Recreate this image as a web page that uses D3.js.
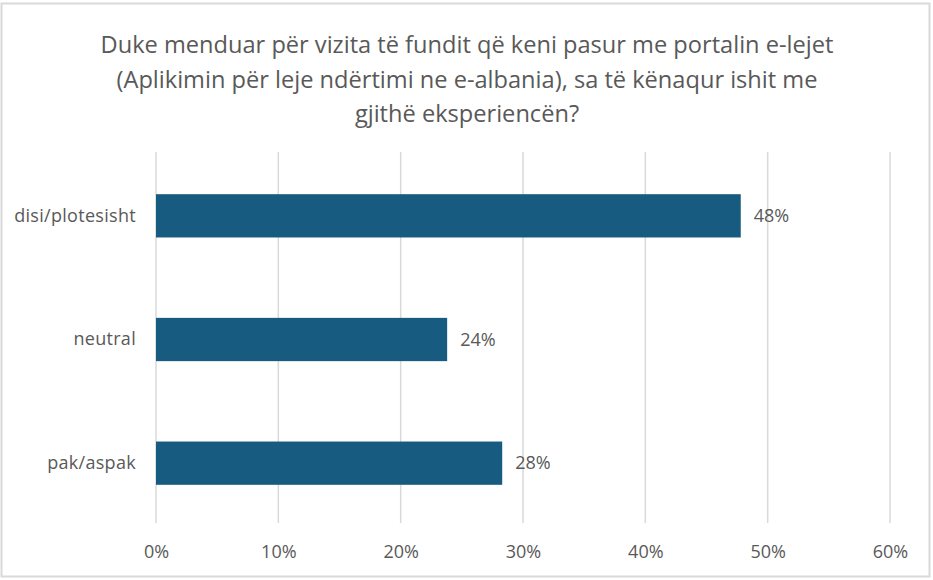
<!DOCTYPE html>
<html><head><meta charset="utf-8">
<script src="https://cdn.jsdelivr.net/npm/d3@7"></script>
<style>body{margin:0;background:#fff;} svg{display:block;}</style>
</head><body>
<script>
const categories = ["disi/plotesisht", "neutral", "pak/aspak"];
const values = [47.8, 23.8, 28.3];
const valueLabels = ["48%", "24%", "28%"];
const tickValues = [0, 10, 20, 30, 40, 50, 60];
const titleLines = [
  "Duke menduar për vizita të fundit që keni pasur me portalin e-lejet",
  "(Aplikimin për leje ndërtimi ne e-albania), sa të kënaqur ishit me",
  "gjithë eksperiencën?"
];

const W = 933, H = 580;
const svg = d3.select("body").append("svg").attr("width", W).attr("height", H);
svg.append("rect").attr("x", 0).attr("y", 0).attr("width", W).attr("height", H).attr("fill", "#fff");
svg.append("rect").attr("x", 1.5).attr("y", 3.5).attr("width", 928).attr("height", 573)
  .attr("fill", "none").attr("stroke", "#d9d9d9").attr("stroke-width", 2);

const textColor = "#595959";
const font = "'Open Sans', 'Noto Sans', sans-serif";

const title = svg.append("g").selectAll("text").data(titleLines).join("text")
  .attr("x", 467).attr("y", (d, i) => 53 + i * 34.5)
  .attr("text-anchor", "middle").attr("fill", textColor)
  .style("font-family", font).style("font-size", "22px")
  .text(d => d);
// fit first title line to reference width (~733px)
const w0 = title.node().getComputedTextLength();
const fs = Math.min(26, 22 * 733 / w0);
title.style("font-size", fs + "px");

const x = d3.scaleLinear().domain([0, 60]).range([156, 890]);
const y = d3.scaleBand().domain(categories).range([154, 525]).paddingInner(0.65).paddingOuter(0.325);

// gridlines
svg.append("g").selectAll("line").data(tickValues).join("line")
  .attr("x1", d => x(d)).attr("x2", d => x(d))
  .attr("y1", 152).attr("y2", 523)
  .attr("stroke", "#d9d9d9").attr("stroke-width", 1.5);

// tick labels
const xAxis = d3.axisBottom(x).tickValues(tickValues).tickFormat(d => d + "%").tickSize(0).tickPadding(0);
const gx = svg.append("g").attr("transform", "translate(0,545)").call(xAxis);
gx.select(".domain").remove();
gx.selectAll("text").attr("fill", textColor).style("font-family", font).style("font-size", "18px").attr("dy", "0.35em").attr("y", 7);

// category axis
const yAxis = d3.axisLeft(y).tickSize(0).tickPadding(20);
const gy = svg.append("g").attr("transform", "translate(156,0)").call(yAxis);
gy.select(".domain").remove();
gy.selectAll("text").attr("fill", textColor).style("font-family", font).style("font-size", "18px").style("letter-spacing", "0.3px");

// bars
svg.append("g").selectAll("rect").data(categories).join("rect")
  .attr("x", x(0)).attr("y", d => y(d))
  .attr("width", (d, i) => x(values[i]) - x(0))
  .attr("height", y.bandwidth())
  .attr("fill", "#175c80");

// value labels
svg.append("g").selectAll("text").data(categories).join("text")
  .attr("x", (d, i) => x(values[i]) + 13)
  .attr("y", d => y(d) + y.bandwidth() / 2)
  .attr("dy", "0.35em")
  .attr("fill", textColor)
  .style("font-family", font).style("font-size", "18px")
  .text((d, i) => valueLabels[i]);
</script>
</body></html>
